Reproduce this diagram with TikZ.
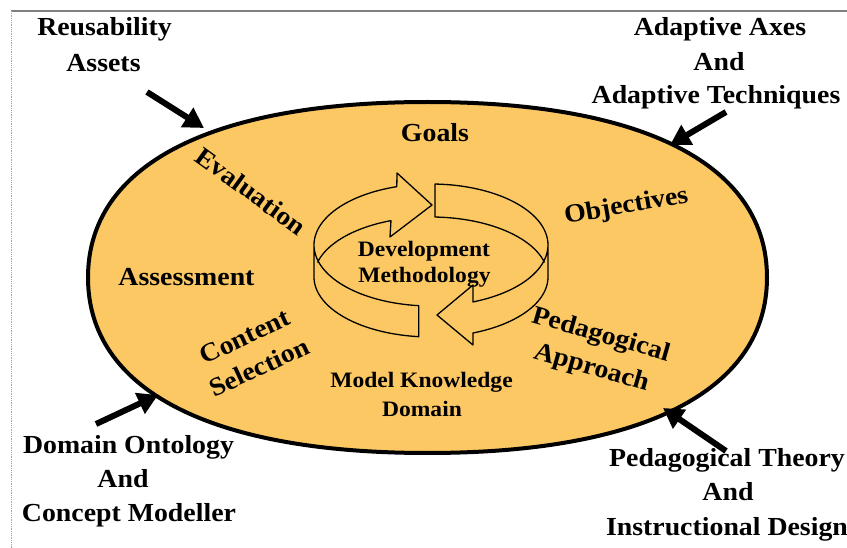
\documentclass[tikz,border=0pt]{standalone}
\usepackage{fontspec}
\setmainfont{Liberation Serif}
\newfontfamily\innerfont{Liberation Serif}[FakeStretch=1.07]
\usetikzlibrary{arrows.meta}
\definecolor{ellfill}{RGB}{252,200,100}
\definecolor{framegray}{RGB}{128,128,128}
\begin{document}
\begin{tikzpicture}[x=1pt, y=-1pt,
  outtxt/.style={font={\innerfont\bfseries\fontsize{26}{34}\selectfont}, anchor=base, inner sep=0pt},
  lbl/.style={font={\innerfont\bfseries\fontsize{26}{34}\selectfont}, inner sep=0pt, align=center},
  core/.style={font={\innerfont\bfseries\fontsize{22}{26}\selectfont}, anchor=base, inner sep=0pt},
  feed/.style={line width=6pt, -{Triangle[length=20pt,width=22pt]}},
  ring/.style={line width=1.3pt, line join=round}]
\useasboundingbox (0,0) rectangle (847,548);
% frame
\draw[framegray, line width=1.5pt] (11,11) -- (847,11);
\draw[framegray!70, line width=0.8pt, densely dotted] (11,11) -- (11,548);
% big ellipse
\draw[line width=4pt, fill=ellfill] (767,277.5) .. controls (767,165.2) and (644.8,102) .. (427.5,102)
  .. controls (210.2,102) and (88,165.2) .. (88,277.5)
  .. controls (88,389.8) and (210.2,453) .. (427.5,453)
  .. controls (644.8,453) and (767,389.8) .. (767,277.5) -- cycle;
% cycle arrows (ring)
\draw[ring] plot[domain=166:110, samples=40] ({431+117*cos(\x)},{277-60*sin(\x)})
  -- (390,237) -- (432,205) -- (397,173)
  -- plot[domain=107:180, samples=40] ({431+117*cos(\x)},{245-61*sin(\x)})
  -- plot[domain=180:264, samples=40] ({431+117*cos(\x)},{277-60*sin(\x)})
  -- plot[domain=264:180, samples=40] ({431+117*cos(\x)},{245-61*sin(\x)});
\draw[ring] plot[domain=14:88, samples=40] ({431+117*cos(\x)},{277-60*sin(\x)})
  -- plot[domain=88:-69, samples=60] ({431+117*cos(\x)},{245-61*sin(\x)})
  -- (473,285) -- (437,315) -- (473,345)
  -- plot[domain=-69:0, samples=40] ({431+117*cos(\x)},{277-60*sin(\x)})
  -- (548,245);
% outer texts
\node[outtxt] (reu1) at (104.5,36) {Reusability};
\node[outtxt] (reu2) at (103.5,71.5) {Assets};
\node[outtxt] (ada1) at (720,35.5) {Adaptive Axes};
\node[outtxt] (ada2) at (719,70.5) {And};
\node[outtxt] (ada3) at (716,104) {Adaptive Techniques};
\node[outtxt] (dom1) at (128.5,453) {Domain Ontology};
\node[outtxt] (dom2) at (123,487) {And};
\node[outtxt] (dom3) at (129,521.5) {Concept Modeller};
\node[outtxt] (ped1) at (727,466.5) {Pedagogical Theory};
\node[outtxt] (ped2) at (728,500) {And};
\node[outtxt] (ped3) at (727,535) {Instructional Design};
% inner labels
\node[lbl, anchor=base] (goals) at (435,142) {Goals};
\node[lbl, anchor=base] (assess) at (186.5,286) {Assessment};
\node[lbl, anchor=base, rotate=10] (obj) at (627.5,213) {Objectives};
\node[lbl, rotate=-36] (eval) at (251,191) {Evaluation};
\node[lbl, rotate=25] (content) at (252,352) {Content\\Selection};
\node[lbl, rotate=-16] (pedapp) at (596,352) {Pedagogical\\Approach};
\node[core] (dev1) at (424,257) {Development};
\node[core] (dev2) at (424.5,283) {Methodology};
\node[core] (mod1) at (421.5,388) {Model Knowledge};
\node[core] (mod2) at (422,416) {Domain};
% feed arrows
\coordinate (reuT) at (147,92);   \coordinate (reuH) at (204,128);
\coordinate (adaT) at (726,112);  \coordinate (adaH) at (670,145);
\coordinate (domT) at (96,424);   \coordinate (domH) at (158,395);
\coordinate (pedT) at (726,451);  \coordinate (pedH) at (663,408);
\draw[feed] (reuT) -- (reuH);
\draw[feed] (adaT) -- (adaH);
\draw[feed] (domT) -- (domH);
\draw[feed] (pedT) -- (pedH);
\end{tikzpicture}
\end{document}
